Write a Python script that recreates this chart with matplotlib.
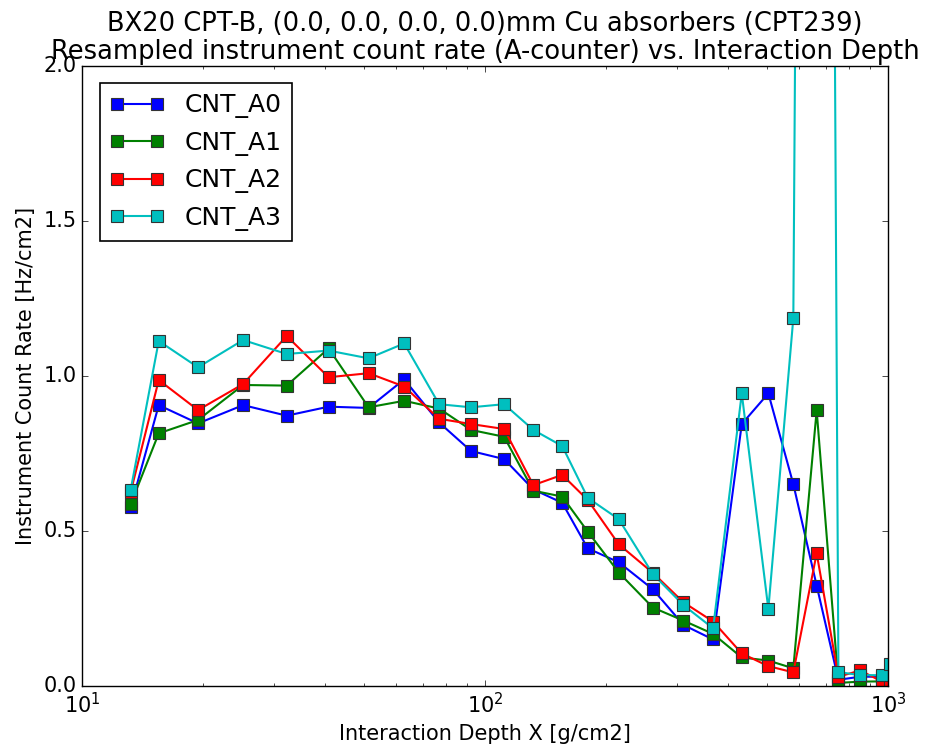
import numpy as np
import matplotlib
matplotlib.use('Agg')
import matplotlib.pyplot as plt

plt.style.use('classic')
plt.rcParams['font.family'] = ['DejaVu Sans']

# Interaction depth [g/cm2]
depth = [13.2, 15.5, 19.4, 25.1, 32.2, 40.9, 51.4, 63.0, 76.9, 92.3, 111.5, 131.8,
         155.4, 179.8, 214.7, 260.8, 310.6, 368, 433.5, 504.6, 582, 665, 753, 853,
         964, 1012]

cnt_a0 = [0.576, 0.906, 0.847, 0.906, 0.872, 0.901, 0.897, 0.989, 0.850, 0.758, 0.732,
          0.634, 0.591, 0.444, 0.399, 0.312, 0.197, 0.150, 0.845, 0.944, 0.651, 0.324,
          0.020, 0.030, 0.030, 0.030]
cnt_a1 = [0.586, 0.815, 0.858, 0.971, 0.969, 1.089, 0.899, 0.920, 0.895, 0.826, 0.804,
          0.630, 0.611, 0.498, 0.366, 0.253, 0.211, 0.168, 0.092, 0.082, 0.057, 0.889,
          0.010, 0.014, 0.015, 0.020]
cnt_a2 = [0.625, 0.987, 0.890, 0.974, 1.129, 0.996, 1.009, 0.966, 0.862, 0.845, 0.829,
          0.648, 0.681, 0.600, 0.457, 0.365, 0.270, 0.208, 0.105, 0.064, 0.044, 0.428,
          0.030, 0.050, 0.015, 0.020]
cnt_a3 = [0.632, 1.113, 1.028, 1.116, 1.071, 1.082, 1.057, 1.105, 0.909, 0.899, 0.909,
          0.826, 0.774, 0.607, 0.538, 0.361, 0.261, 0.186, 0.944, 0.248, 1.187, 12.5,
          0.045, 0.035, 0.035, 0.070]

series = [('CNT_A0', cnt_a0, 'b'), ('CNT_A1', cnt_a1, 'g'),
          ('CNT_A2', cnt_a2, 'r'), ('CNT_A3', cnt_a3, 'c')]

fig = plt.figure(figsize=(9.27, 7.56), dpi=100)
fig.patch.set_facecolor('white')
ax = fig.add_axes([0.0885, 0.0926, 0.8695, 0.8201])

for name, vals, col in series:
    ax.plot(depth, vals, color=col, marker='s', markersize=8, linewidth=1.5,
            markeredgecolor='#333333', markeredgewidth=0.8, label=name)

ax.set_xscale('log')
ax.set_xlim(10, 1000)
ax.set_ylim(0, 2.0)
ax.set_yticks([0.0, 0.5, 1.0, 1.5, 2.0])

ax.set_title('BX20 CPT-B, (0.0, 0.0, 0.0, 0.0)mm Cu absorbers (CPT239)\n'
             'Resampled instrument count rate (A-counter) vs. Interaction Depth',
             fontsize=18.5, linespacing=1.1)
ax.set_xlabel('Interaction Depth X [g/cm2]', fontsize=15)
ax.set_ylabel('Instrument Count Rate [Hz/cm2]', fontsize=15)
ax.tick_params(labelsize=15)

leg = ax.legend(loc='upper left', fontsize=18, numpoints=2, fancybox=False,
                handlelength=2.2, borderaxespad=0.7)
leg.get_frame().set_linewidth(1.2)

plt.savefig('out.png', dpi=100, facecolor='white')
